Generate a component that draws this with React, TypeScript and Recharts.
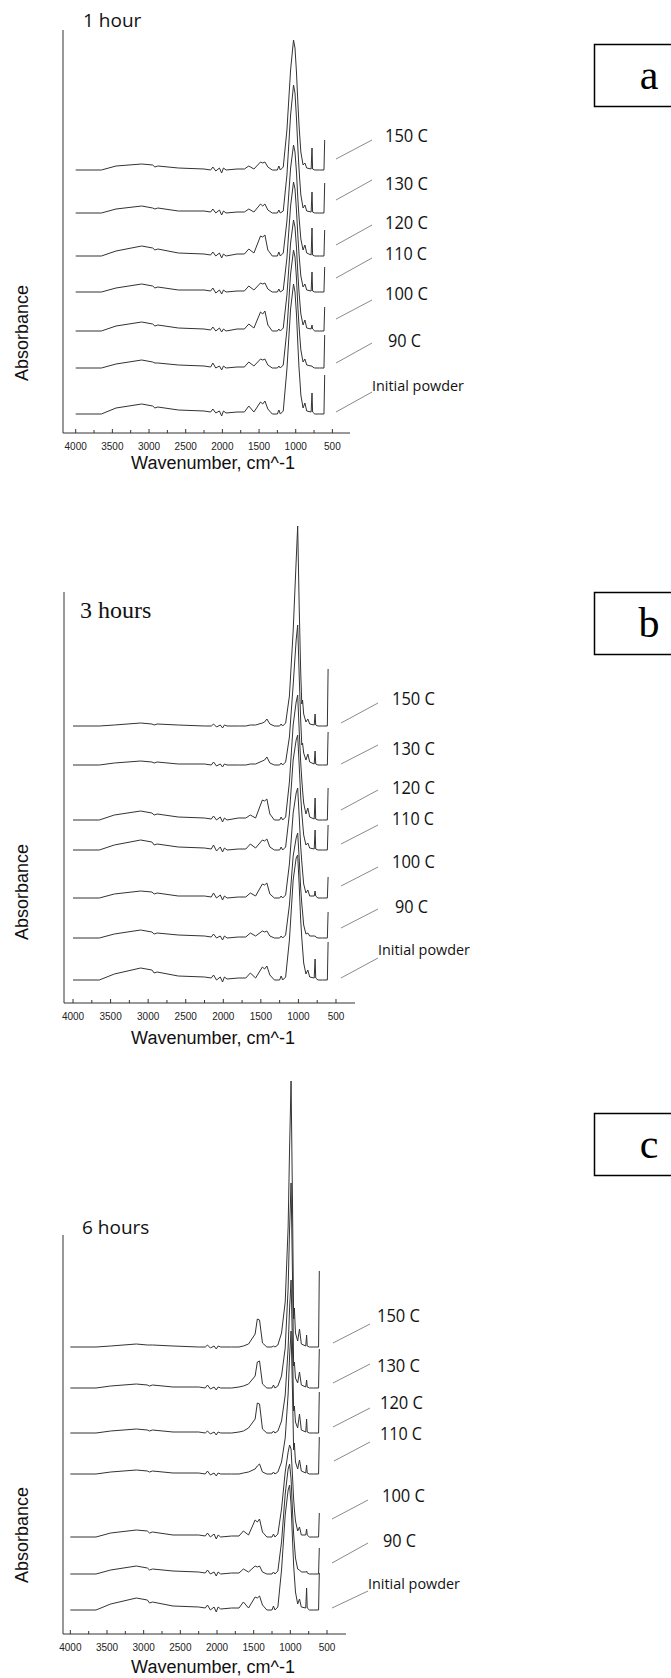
import React from "react"
import { Line, LineChart, ReferenceLine, XAxis, YAxis } from "recharts"

// wavenumber grid (cm^-1) shared by every spectrum
const wavenumbers = [
  4000, 3650, 3450, 3100, 2950, 2920, 2880, 2600, 2250, 2160, 2130, 2090, 2040, 2010, 1985, 1950,
  1800, 1700, 1640, 1570, 1480, 1450, 1420, 1380, 1320, 1250, 1230, 1210, 1170, 1120, 1070, 1030,
  1010, 990, 970, 955, 945, 930, 900, 875, 850, 790, 778, 770, 740, 680, 615, 605,
]

const seriesKeys = ["t150", "t130", "t120", "t110", "t100", "t90", "initial"]
const seriesLabels = ["150 C", "130 C", "120 C", "110 C", "100 C", "90 C", "Initial powder"]

// ---- 1 hour (absorbance above each trace's baseline, arbitrary units)
const h1T150 = [0, 0, 4, 6, 5, 3, 4, 2, 1, 0, 3, -1, 2, -3, 2, 0, 1, 1, 4, 1, 8, 7, 8, 3, 0, 0, 4, 0, 3, 40, 100, 130, 122, 98, 66, 45, 34, 18, 5, 7, 2, 1, 22, 1, 0, 0, 0, 30]
const h1T130 = [0, 0, 4, 7, 5, 4, 5, 2, 2, 1, 4, 0, 3, -2, 2, 0, 1, 1, 4, 1, 9, 7, 9, 3, 0, 0, 3, 0, 2, 38, 98, 128, 120, 95, 64, 44, 33, 18, 5, 8, 2, 1, 21, 1, 0, 0, 0, 30]
const h1T120 = [0, 0, 5, 10, 8, 6, 7, 3, 2, 1, 4, 0, 3, -2, 2, 0, 2, 2, 7, 3, 20, 19, 21, 6, 0, 0, 4, 0, 3, 35, 88, 111, 104, 84, 56, 39, 30, 17, 6, 11, 3, 1, 28, 1, 0, 0, 0, 26]
const h1T110 = [0, 0, 4, 8, 6, 4, 5, 2, 2, 1, 4, -1, 2, -2, 2, 0, 1, 1, 6, 2, 9, 8, 9, 3, 0, 0, 3, 0, 2, 34, 86, 110, 103, 82, 55, 38, 29, 16, 5, 8, 2, 1, 20, 1, 0, 0, 0, 25]
const h1T100 = [0, 0, 5, 9, 7, 5, 6, 3, 2, 1, 4, 0, 3, -1, 2, 0, 2, 2, 7, 3, 19, 17, 20, 6, 0, 0, 2, 0, 3, 36, 88, 111, 104, 84, 56, 39, 30, 17, 6, 11, 3, 2, 6, 2, 0, 0, 0, 24]
const h1T90 = [0, 0, 4, 8, 6, 5, 5, 3, 2, 1, 5, 0, 2, -2, 2, 0, 1, 1, 6, 2, 9, 8, 9, 3, 0, 0, 2, 0, 3, 38, 94, 118, 111, 90, 60, 42, 32, 18, 6, 9, 3, 2, 2, 1, 0, 0, 0, 33]
const h1Initial = [0, 0, 6, 10, 8, 6, 7, 4, 3, 2, 5, 1, 3, -2, 3, 1, 2, 2, 8, 2, 12, 10, 13, 5, 0, 0, 4, 0, 3, 45, 105, 130, 122, 100, 68, 46, 36, 19, 6, 11, 3, 2, 21, 2, 0, 0, 0, 39]
const h1Offsets = [263, 220, 177, 141, 102, 65, 19]

// ---- 3 hours
const h3T150 = [0, 0, 1, 3, 2, 1, 2, 1, 0, 0, 2, -1, 1, -2, 1, 0, 0, 0, 1, 1, 3, 4, 7, 2, 0, 0, 2, 0, 3, 30, 95, 165, 200, 120, 55, 22, 26, 12, 4, 7, 2, 1, 12, 1, 0, 0, 0, 57]
const h3T130 = [0, 0, 2, 4, 3, 2, 3, 1, 1, 0, 3, -1, 1, -2, 1, 0, 0, 0, 1, 1, 4, 5, 8, 2, 0, 0, 2, 0, 3, 28, 80, 125, 140, 90, 45, 20, 22, 12, 5, 11, 3, 1, 14, 1, 0, 0, 0, 33]
const h3T120 = [0, 0, 5, 9, 7, 5, 6, 3, 2, 1, 4, 0, 3, -2, 2, 0, 2, 2, 5, 2, 20, 19, 21, 6, 0, 0, 3, 0, 3, 38, 95, 118, 125, 90, 58, 40, 30, 17, 6, 12, 3, 1, 22, 1, 0, 0, 0, 32]
const h3T110 = [0, 0, 5, 10, 8, 5, 6, 3, 2, 1, 5, -1, 3, -2, 2, 0, 1, 1, 6, 2, 10, 9, 11, 3, 0, 0, 3, 0, 3, 36, 90, 110, 115, 85, 54, 37, 28, 15, 5, 7, 2, 1, 20, 1, 0, 0, 0, 25]
const h3T100 = [0, 0, 4, 7, 6, 4, 5, 2, 2, 1, 5, 0, 3, -2, 2, 0, 1, 1, 5, 2, 14, 13, 15, 4, 0, 0, 2, 0, 3, 34, 85, 105, 110, 82, 52, 36, 27, 14, 5, 8, 2, 2, 7, 2, 0, 0, 0, 21]
const h3T90 = [0, 0, 4, 8, 6, 4, 5, 3, 2, 1, 4, 0, 2, -2, 2, 0, 1, 1, 5, 2, 7, 6, 7, 2, 0, 0, 2, 0, 3, 33, 82, 100, 105, 80, 50, 34, 26, 13, 4, 5, 2, 2, 2, 1, 0, 0, 0, 26]
const h3Initial = [0, 0, 6, 12, 10, 7, 8, 4, 3, 2, 5, 0, 3, -2, 3, 1, 2, 2, 7, 2, 13, 11, 14, 5, 0, 0, 4, 0, 3, 40, 100, 122, 125, 95, 60, 42, 32, 17, 6, 10, 3, 2, 21, 2, 0, 0, 0, 38]
const h3Offsets = [277, 238, 183, 153, 105, 65, 23]

// ---- 6 hours
const h6T150 = [0, 0, 1, 3, 2, 2, 2, 1, 0, 0, 2, -1, 1, -2, 1, 0, 0, 0, 1, 3, 13, 28, 27, 4, 0, 0, 1, 0, 2, 14, 45, 120, 200, 266, 140, 28, 39, 14, 6, 18, 3, 1, 12, 1, 0, 0, 0, 76]
const h6T130 = [0, 0, 2, 4, 3, 2, 3, 1, 1, 0, 3, -1, 1, -2, 1, 0, 0, 1, 2, 4, 12, 26, 27, 4, 0, 0, 3, 0, 2, 12, 40, 100, 160, 205, 110, 22, 26, 10, 5, 16, 3, 1, 8, 1, 0, 0, 0, 39]
const h6T120 = [0, 0, 2, 4, 3, 2, 3, 1, 1, 0, 2, -1, 1, -2, 1, 0, 0, 1, 2, 5, 14, 30, 29, 4, 0, 0, 2, 0, 2, 12, 38, 85, 125, 153, 85, 22, 27, 11, 5, 19, 3, 1, 14, 1, 0, 0, 0, 41]
const h6T110 = [0, 0, 2, 4, 3, 2, 3, 1, 1, 0, 3, -1, 1, -2, 1, 0, 0, 0, 1, 2, 5, 8, 10, 2, 0, 0, 2, 0, 2, 12, 36, 80, 118, 143, 80, 24, 31, 12, 5, 14, 3, 1, 9, 1, 0, 0, 0, 37]
const h6T100 = [0, 0, 4, 7, 6, 4, 5, 2, 2, 1, 4, 0, 3, -2, 2, 0, 1, 1, 6, 2, 17, 15, 18, 5, 0, 0, 3, 0, 3, 28, 65, 85, 92, 88, 60, 38, 28, 16, 6, 10, 2, 2, 8, 2, 0, 0, 0, 24]
const h6T90 = [0, 0, 4, 8, 6, 4, 5, 3, 2, 1, 4, 0, 2, -2, 2, 0, 1, 1, 5, 2, 8, 7, 8, 2, 0, 0, 2, 0, 3, 32, 80, 105, 110, 95, 62, 40, 30, 16, 5, 4, 2, 2, 3, 1, 0, 0, 0, 26]
const h6Initial = [0, 0, 6, 12, 10, 7, 8, 4, 3, 2, 5, 0, 3, -2, 3, 1, 2, 2, 8, 2, 13, 12, 14, 5, 0, 0, 4, 0, 3, 40, 95, 120, 125, 105, 70, 45, 34, 18, 6, 11, 3, 2, 22, 2, 0, 0, 0, 37]
const h6Offsets = [287, 246, 201, 160, 97, 60, 24]

const xTicks = [4000, 3750, 3500, 3250, 3000, 2750, 2500, 2250, 2000, 1750, 1500, 1250, 1000, 750, 500]
const bYTicks = [0, 14, 28, 42, 56, 70, 84, 98, 112, 126, 140, 154, 168, 182, 196, 210, 224, 238, 252, 266, 280, 294, 308, 322, 336, 350, 364, 378, 392, 406]

const LABEL_FONT = "'Open Sans', 'Noto Sans', sans-serif"
const AXIS_FONT = "'Liberation Sans', Arial, sans-serif"
const SERIF = "'Liberation Serif', 'Times New Roman', serif"
const INK = "#333"

const buildRows = (series: number[][], offsets: number[]) =>
  wavenumbers.map((wn, i) => {
    const row: Record<string, number> = { wn }
    seriesKeys.forEach((key, s) => {
      row[key] = series[s][i] + offsets[s]
    })
    return row
  })

const rows1h = buildRows([h1T150, h1T130, h1T120, h1T110, h1T100, h1T90, h1Initial], h1Offsets)
const rows3h = buildRows([h3T150, h3T130, h3T120, h3T110, h3T100, h3T90, h3Initial], h3Offsets)
const rows6h = buildRows([h6T150, h6T130, h6T120, h6T110, h6T100, h6T90, h6Initial], h6Offsets)

const WaveTick = (props: any) => {
  const { x, y, payload } = props
  const major = payload.value % 500 === 0
  return (
    <g>
      <line x1={x} y1={y} x2={x} y2={y - (major ? 4 : 3)} stroke={INK} strokeWidth={1} />
      {major && (
        <text x={x} y={y + 17} textAnchor="middle" fontSize={10} fontFamily={AXIS_FONT} fill="#222">
          {payload.value}
        </text>
      )}
    </g>
  )
}

type PanelProps = {
  rows: Record<string, number>[]
  top: number
  height: number
  marginTop: number
  left: number
  right: number
  xDomain: [number, number]
  yMax: number
  axisTop: number
  yTicks?: number[]
}

function SpectraPanel({ rows, top, height, marginTop, left, right, xDomain, yMax, axisTop, yTicks }: PanelProps) {
  return (
    <div style={{ position: "absolute", left: 0, top }}>
      <LineChart
        width={671}
        height={height}
        data={rows}
        margin={{ top: marginTop, right: 671 - right, left: left - 1, bottom: 0 }}
      >
        <XAxis
          type="number"
          dataKey="wn"
          domain={xDomain}
          reversed
          ticks={xTicks}
          interval={0}
          tick={<WaveTick />}
          tickLine={false}
          tickSize={0}
          tickMargin={0}
          height={30}
          axisLine={{ stroke: INK }}
        />
        <YAxis
          type="number"
          domain={[0, yMax]}
          width={1}
          axisLine={false}
          ticks={yTicks ?? [0]}
          interval={0}
          tick={false}
          tickLine={yTicks ? { stroke: "#666" } : false}
          tickSize={3}
        />
        <ReferenceLine
          segment={[
            { x: xDomain[1], y: 0 },
            { x: xDomain[1], y: axisTop },
          ]}
          stroke={INK}
          ifOverflow="visible"
        />
        {seriesKeys.map((key) => (
          <Line
            key={key}
            dataKey={key}
            type="linear"
            dot={false}
            activeDot={false}
            stroke="#333"
            strokeWidth={1}
            isAnimationActive={false}
          />
        ))}
      </LineChart>
    </div>
  )
}

// annotation layout: [label x, label y], leader line [x1, y1, x2, y2]
const labels1h = [[385, 135], [385, 183], [385, 222], [385, 253], [385, 293], [388, 340], [372, 385]]
const leaders1h = [[336, 159, 372, 140], [336, 200, 372, 180], [336, 245, 372, 225], [336, 278, 372, 258], [336, 319, 372, 300], [336, 363, 372, 343], [336, 412, 372, 392]]
const labels3h = [[392, 698], [392, 748], [392, 787], [392, 818], [392, 861], [395, 906], [378, 949]]
const leaders3h = [[341, 723, 378, 703], [341, 764, 378, 745], [341, 810, 378, 790], [341, 844, 378, 825], [341, 886, 378, 867], [341, 928, 378, 909], [341, 978, 378, 958]]
const labels6h = [[377, 1315], [377, 1365], [380, 1402], [380, 1433], [382, 1495], [383, 1540], [368, 1583]]
const leaders6h = [[333, 1343, 370, 1324], [333, 1383, 370, 1364], [333, 1427, 370, 1408], [334, 1461, 370, 1442], [332, 1519, 368, 1500], [332, 1563, 368, 1543], [332, 1608, 368, 1591]]
// rendered widths of the labels in the figure (condensed face)
const labelWidths = [43, 43, 43, 42, 43, 33, 92]

function Labels({ pos, leaders }: { pos: number[][]; leaders: number[][] }) {
  return (
    <g>
      {leaders.map(([x1, y1, x2, y2], i) => (
        <line key={`l${i}`} x1={x1} y1={y1} x2={x2} y2={y2} stroke="#8a8a8a" strokeWidth={1} />
      ))}
      {pos.map(([x, y], i) => (
        <text
          key={`t${i}`}
          x={x}
          y={y}
          dominantBaseline="central"
          fontFamily={LABEL_FONT}
          fontSize={i === 6 ? 15 : 19}
          textLength={labelWidths[i]}
          lengthAdjust="spacingAndGlyphs"
          fill="#111"
        >
          {seriesLabels[i]}
        </text>
      ))}
    </g>
  )
}

function PanelBox({ y, letter }: { y: number; letter: string }) {
  return (
    <g>
      <rect x={594.5} y={y + 0.5} width={110} height={62} fill="none" stroke="#000" strokeWidth={1.5} />
      <text x={649} y={y + 31} textAnchor="middle" dominantBaseline="central" fontFamily={SERIF} fontSize={42} fill="#000">
        {letter}
      </text>
    </g>
  )
}

function AxisTitles({ wavenumberY, absorbanceY }: { wavenumberY: number; absorbanceY: number }) {
  return (
    <g fontFamily={AXIS_FONT} fill="#111">
      <text x={213} y={wavenumberY} textAnchor="middle" dominantBaseline="central" fontSize={18}>
        Wavenumber, cm^-1
      </text>
      <text
        transform={`translate(22, ${absorbanceY}) rotate(-90)`}
        textAnchor="middle"
        dominantBaseline="central"
        fontSize={18}
      >
        Absorbance
      </text>
    </g>
  )
}

export default function App() {
  return (
    <div
      style={{
        position: "absolute",
        left: 0,
        top: 0,
        width: 671,
        height: 1678,
        background: "#fff",
        overflow: "hidden",
      }}
    >
      <SpectraPanel rows={rows1h} top={0} height={463} marginTop={30} left={63} right={350} xDomain={[260, 4173]} yMax={403} axisTop={403} />
      <SpectraPanel rows={rows3h} top={500} height={533} marginTop={15} left={64} right={355} xDomain={[247, 4120]} yMax={488} axisTop={411} yTicks={bYTicks} />
      <SpectraPanel rows={rows6h} top={1060} height={604} marginTop={7} left={63} right={346} xDomain={[241, 4100]} yMax={567} axisTop={399} />

      <svg width={671} height={1678} style={{ position: "absolute", left: 0, top: 0, pointerEvents: "none" }}>
        <text x={83} y={20} dominantBaseline="central" fontFamily={LABEL_FONT} fontSize={19} fill="#111">
          1 hour
        </text>
        <text x={80} y={610} dominantBaseline="central" fontFamily={SERIF} fontSize={24} fill="#111">
          3 hours
        </text>
        <text x={82} y={1227} dominantBaseline="central" fontFamily={LABEL_FONT} fontSize={19} fill="#111">
          6 hours
        </text>

        <Labels pos={labels1h} leaders={leaders1h} />
        <Labels pos={labels3h} leaders={leaders3h} />
        <Labels pos={labels6h} leaders={leaders6h} />

        <AxisTitles wavenumberY={463} absorbanceY={333} />
        <AxisTitles wavenumberY={1038} absorbanceY={892} />
        <AxisTitles wavenumberY={1667} absorbanceY={1535} />

        <PanelBox y={44} letter="a" />
        <PanelBox y={592} letter="b" />
        <PanelBox y={1113} letter="c" />
      </svg>
    </div>
  )
}
